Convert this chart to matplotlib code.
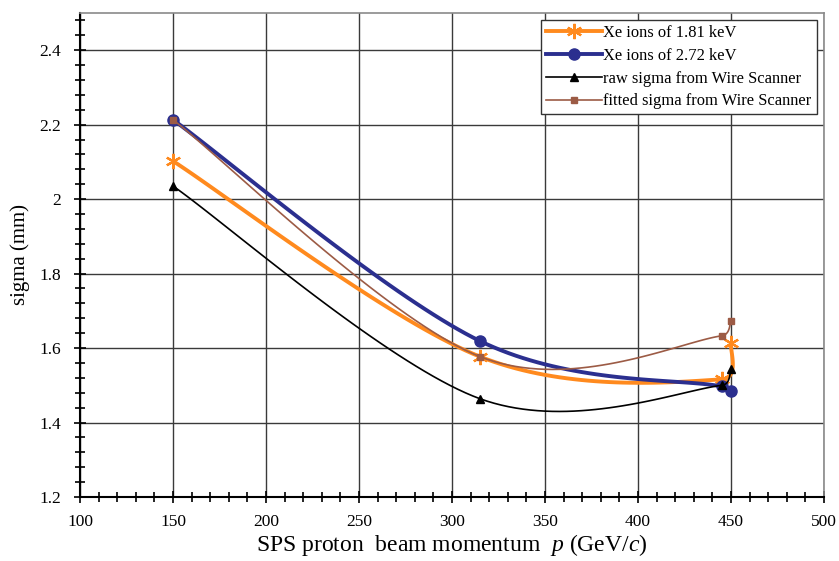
import numpy as np
import matplotlib
matplotlib.use("Agg")
from matplotlib import pyplot as plt
from matplotlib.ticker import MultipleLocator

plt.rcParams['font.family'] = ['Liberation Serif', 'DejaVu Serif']
plt.rcParams['mathtext.fontset'] = 'custom'
plt.rcParams['mathtext.rm'] = 'Liberation Serif'
plt.rcParams['mathtext.it'] = 'Liberation Serif:italic'

# beam momentum (GeV/c) and measured sigma (mm)
momentum = [150, 315, 445, 450]
xe_181 = [2.102, 1.577, 1.516, 1.613]
xe_272 = [2.213, 1.619, 1.497, 1.484]
ws_raw = [2.035, 1.464, 1.500, 1.543]
ws_fitted = [2.213, 1.577, 1.633, 1.673]

labels = ['Xe ions of 1.81 keV', 'Xe ions of 2.72 keV',
          'raw sigma from Wire Scanner', 'fitted sigma from Wire Scanner']


def smooth(ax, x, y, n=40):
  # spreadsheet-style smoothed line: cubic bezier built in display space,
  # control arm = 1/6 of the neighbour chord, capped at half the segment
  tr = ax.transData
  p = tr.transform(np.column_stack([x, y]).astype(float))
  pts = [p[0]]
  t = np.linspace(0, 1, n)[1:, None]
  for i in range(len(p) - 1):
    p0 = p[i - 1] if i > 0 else p[i]
    p3 = p[i + 2] if i + 2 < len(p) else p[i + 1]
    half = np.hypot(*(p[i + 1] - p[i])) / 2
    v1 = (p[i + 1] - p0) / 6
    v2 = (p3 - p[i]) / 6
    for v in (v1, v2):
      L = np.hypot(*v)
      if L > half:
        v *= half / L
    c1 = p[i] + v1
    c2 = p[i + 1] - v2
    seg = ((1 - t) ** 3) * p[i] + 3 * ((1 - t) ** 2) * t * c1 + 3 * (1 - t) * t ** 2 * c2 + t ** 3 * p[i + 1]
    pts.extend(seg)
  pts = tr.inverted().transform(np.array(pts))
  return pts[:, 0], pts[:, 1]


fig = plt.figure(figsize=(8.39, 5.61), dpi=100)
ax = fig.add_axes([0.0954, 0.114, 0.8868, 0.863])
ax.set_xlim(100, 500)
ax.set_ylim(1.2, 2.5)

styles = [
  dict(color='#FF8A1E', lw=2.8, marker=(6, 2, 0), ms=11, mew=1.6, z=2),
  dict(color='#2B2F8F', lw=2.8, marker='o', ms=8, mew=1, z=3),
  dict(color='black', lw=1.2, marker='^', ms=6, mew=1, z=4),
  dict(color='#9C5B45', lw=1.2, marker='s', ms=5, mew=1, z=5),
]
handles = []
for ys, st, lab in zip([xe_181, xe_272, ws_raw, ws_fitted], styles, labels):
  sx, sy = smooth(ax, momentum, ys)
  ax.plot(sx, sy, color=st['color'], lw=st['lw'], zorder=st['z'], solid_capstyle='round')
  ax.plot(momentum, ys, ls='none', marker=st['marker'], ms=st['ms'], mew=st['mew'],
          color=st['color'], mfc=st['color'], mec=st['color'], zorder=st['z'])
  h, = ax.plot([], [], color=st['color'], lw=st['lw'], marker=st['marker'], ms=st['ms'],
               mew=st['mew'], mfc=st['color'], mec=st['color'])
  handles.append(h)

ax.set_xlim(100, 500)
ax.set_ylim(1.2, 2.5)
ax.xaxis.set_major_locator(MultipleLocator(50))
ax.xaxis.set_minor_locator(MultipleLocator(10))
ax.yaxis.set_minor_locator(MultipleLocator(0.04))
ax.set_yticks([1.2, 1.4, 1.6, 1.8, 2.0, 2.2, 2.4])
ax.set_yticklabels(['1.2', '1.4', '1.6', '1.8', '2', '2.2', '2.4'])

ax.grid(True, which='major', color='#3a3a3a', lw=1.0)
ax.set_axisbelow(True)
ax.tick_params(which='both', direction='inout', labelsize=12.5, width=1.2, color='black')
ax.tick_params(which='major', length=9)
ax.tick_params(which='minor', length=7)
ax.tick_params(axis='x', pad=8)
ax.tick_params(axis='y', pad=9)
for s in ['top', 'right']:
  ax.spines[s].set_color('#8a8a8a')
  ax.spines[s].set_linewidth(1.2)
for s in ['left', 'bottom']:
  ax.spines[s].set_linewidth(1.5)

ax.set_xlabel('SPS proton  beam momentum  $p$ (GeV/$c$)', fontsize=17, labelpad=1)
ax.set_ylabel('sigma (mm)', fontsize=15, labelpad=7)

leg = ax.legend(handles, labels, loc='upper right', bbox_to_anchor=(0.99, 0.986),
                fontsize=11.9, frameon=True, fancybox=False, framealpha=1,
                edgecolor='#333333', handlelength=3.4, handletextpad=0.1,
                labelspacing=0.42, borderpad=0.3, borderaxespad=0)
leg.get_frame().set_linewidth(1.0)

fig.savefig('out.png', dpi=100)
